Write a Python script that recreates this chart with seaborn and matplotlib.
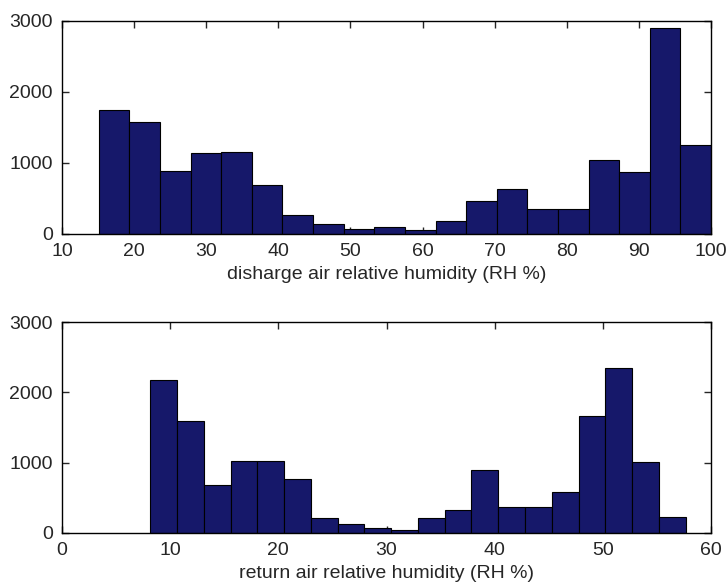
import matplotlib
matplotlib.use("Agg")
import matplotlib.pyplot as plt
import seaborn as sns
import numpy as np

# ---- data ----
discharge_centers = [17.2, 21.5, 25.7, 30.0, 34.2, 38.4, 42.7, 46.9, 51.2, 55.4,
                     59.7, 63.9, 68.1, 72.4, 76.6, 80.9, 85.1, 89.3, 93.6, 97.8]
discharge_counts = [1747, 1578, 885, 1135, 1154, 692, 268, 146, 71, 99,
                    57, 188, 462, 631, 353, 353, 1036, 867, 2892, 1248]
discharge_binrange = (15.1, 100.0)
discharge_xticks = [10, 20, 30, 40, 50, 60, 70, 80, 90, 100]

return_centers = [9.4, 11.9, 14.4, 16.8, 19.3, 21.8, 24.3, 26.7, 29.2, 31.7,
                  34.1, 36.6, 39.1, 41.6, 44.0, 46.5, 49.0, 51.5, 53.9, 56.4]
return_counts = [2177, 1595, 686, 1017, 1017, 771, 218, 132, 66, 47,
                 218, 331, 899, 369, 369, 582, 1666, 2352, 1003, 222]
return_binrange = (8.16, 57.65)
return_xticks = [0, 10, 20, 30, 40, 50, 60]

yticks = [0, 1000, 2000, 3000]
n_bins = 20

sns.set_style("ticks")
plt.rcParams["font.family"] = ["Liberation Sans", "DejaVu Sans"]

fig = plt.figure(figsize=(7.28, 5.86), dpi=100)
ax1 = fig.add_axes([0.0852, 0.6007, 0.8915, 0.364])
ax2 = fig.add_axes([0.0852, 0.0905, 0.8915, 0.3600])

bar_color = "#16186a"

def draw(ax, centers, counts, brange, xticks, xlim, label):
    sns.histplot(x=centers, weights=counts, bins=n_bins, binrange=brange,
                 color=bar_color, alpha=1.0, edgecolor="black", linewidth=0.8,
                 ax=ax)
    ax.set_xlim(*xlim)
    ax.set_ylim(0, 3000)
    ax.set_xticks(xticks)
    ax.set_yticks(yticks)
    ax.set_xlabel(label, fontsize=14, labelpad=4)
    ax.set_ylabel("")
    ax.tick_params(direction="in", top=True, right=True, length=5, width=1,
                   labelsize=14)
    ax.tick_params(axis="x", pad=6.5)
    ax.tick_params(axis="y", pad=6.5)
    for s in ax.spines.values():
        s.set_visible(True)
        s.set_linewidth(1.0)
        s.set_color("black")

draw(ax1, discharge_centers, discharge_counts, discharge_binrange,
     discharge_xticks, (10, 100), "disharge air relative humidity (RH %)")
draw(ax2, return_centers, return_counts, return_binrange,
     return_xticks, (0, 60), "return air relative humidity (RH %)")

fig.savefig("out.png", dpi=100)
